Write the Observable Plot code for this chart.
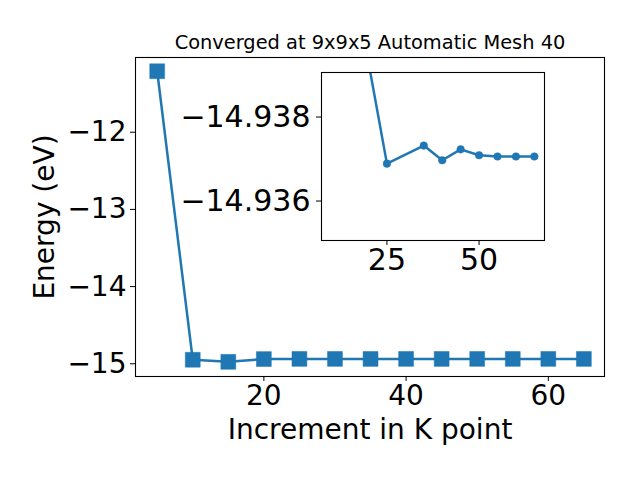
<!DOCTYPE html>
<html>
<head>
<meta charset="utf-8">
<script src="https://cdn.jsdelivr.net/npm/d3@7"></script>
<script src="https://cdn.jsdelivr.net/npm/@observablehq/plot@0.6"></script>
<style>
  html, body { margin: 0; padding: 0; background: white; }
  #wrap { position: relative; width: 640px; height: 480px; }
  #inset { position: absolute; }
</style>
</head>
<body>
<div id="wrap"><div id="main"></div><div id="inset"></div></div>
<script>
// Main series
const kPoints = [5, 10, 15, 20, 25, 30, 35, 40, 45, 50, 55, 60, 65];
const energies = [-11.21, -14.948, -14.975, -14.9393, -14.93689, -14.9370, -14.93732, -14.93697, -14.93723, -14.93709, -14.93706, -14.93706, -14.93706];
// Inset series (zoomed view)
const insetK = [10, 15, 20, 25, 35, 40, 45, 50, 55, 60, 65];
const insetE = [-14.948, -14.975, -14.9393, -14.93689, -14.93732, -14.93697, -14.93723, -14.93709, -14.93706, -14.93706, -14.93706];
// Ticks and labels
const xTicks = [20, 40, 60];
const yTicks = [-15, -14, -13, -12];
const insetXTicks = [25, 50];
const insetYTicks = [-14.938, -14.936];
const titleText = "Converged at 9x9x5 Automatic Mesh 40";
const xLabel = "Increment in K point";
const yLabel = "Energy (eV)";

const blue = "#1f77b4";
const mainData = kPoints.map((k, i) => ({k, e: energies[i]}));
const insetData = insetK.map((k, i) => ({k, e: insetE[i]}));

const main = Plot.plot({
  width: 640, height: 480,
  marginLeft: 135, marginRight: 36, marginTop: 57, marginBottom: 104,
  x: {domain: [1.95, 67.9]},
  y: {domain: [-15.165, -11.032]},
  style: {fontFamily: "DejaVu Sans", fontSize: "28px", background: "white", color: "black", overflow: "visible"},
  marks: [
    Plot.axisX({ticks: xTicks, tickSize: 5, tickPadding: 4, tickFormat: d3.format("d"),
      label: xLabel, labelAnchor: "center", labelArrow: "none", labelOffset: 62}),
    Plot.axisY({ticks: yTicks, tickSize: 5, tickPadding: 4, tickFormat: d3.format("d"),
      label: yLabel, labelAnchor: "center", labelArrow: "none", labelOffset: 101}),
    Plot.line(mainData, {x: "k", y: "e", stroke: blue, strokeWidth: 2.5}),
    Plot.dot(mainData, {x: "k", y: "e", symbol: "square", r: 8.4, fill: blue, stroke: blue, strokeWidth: 0.5}),
    Plot.frame({stroke: "black", strokeWidth: 1.1}),
    Plot.text([titleText], {frameAnchor: "top", lineAnchor: "bottom", dy: -9, fontSize: 19.4})
  ]
});
document.getElementById("main").appendChild(main);

const inLeft = 321, inTop = 72, inW = 223, inH = 168;
const mL = 170, mT = 10, mR = 10, mB = 50;
const inset = Plot.plot({
  width: mL + inW + mR, height: mT + inH + mB,
  marginLeft: mL, marginTop: mT, marginRight: mR, marginBottom: mB,
  x: {domain: [7.25, 67.75]},
  y: {domain: [-14.93906, -14.93506], reverse: true},
  style: {fontFamily: "DejaVu Sans", fontSize: "30px", background: "white", color: "black", overflow: "visible"},
  marks: [
    Plot.axisX({ticks: insetXTicks, tickSize: 5, tickPadding: 3, tickFormat: d3.format("d"), label: null}),
    Plot.axisY({ticks: insetYTicks, tickSize: 5, tickPadding: 6, tickFormat: d3.format(".3f"), label: null}),
    Plot.line(insetData, {x: "k", y: "e", stroke: blue, strokeWidth: 2.5, clip: true}),
    Plot.dot(insetData, {x: "k", y: "e", r: 3.8, fill: blue, stroke: blue, strokeWidth: 0.5, clip: true}),
    Plot.frame({stroke: "black", strokeWidth: 1.1})
  ]
});
const insetDiv = document.getElementById("inset");
insetDiv.style.left = (inLeft - mL) + "px";
insetDiv.style.top = (inTop - mT) + "px";
inset.style.background = "transparent";
insetDiv.appendChild(inset);
</script>
</body>
</html>
